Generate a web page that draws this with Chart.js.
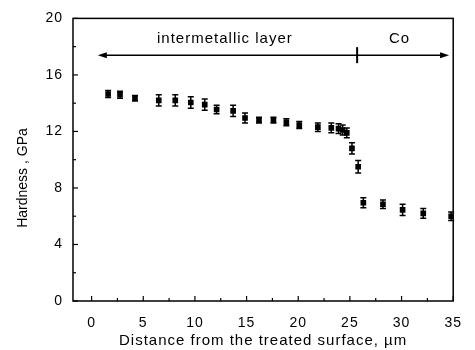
<!DOCTYPE html>
<html>
<head>
<meta charset="utf-8">
<script src="https://cdn.jsdelivr.net/npm/chart.js@4.4.1/dist/chart.umd.min.js"></script>
<style>
html,body{margin:0;padding:0;background:#fff;}
#wrap{width:475px;height:350px;}
</style>
</head>
<body>
<div id="wrap"><canvas id="c" width="475" height="350"></canvas></div>
<script>
const distance = [1.6, 2.75, 4.2, 6.5, 8.1, 9.6, 10.95, 12.1, 13.7, 14.85, 16.2, 17.6, 18.85, 20.1, 21.9, 23.2, 23.9, 24.3, 24.7, 25.2, 25.8, 26.3, 28.2, 30.1, 32.1, 34.8];
const hardness = [14.65, 14.6, 14.35, 14.2, 14.2, 14.05, 13.9, 13.55, 13.45, 12.95, 12.8, 12.8, 12.65, 12.45, 12.3, 12.25, 12.2, 12.1, 11.9, 10.8, 9.5, 6.95, 6.85, 6.45, 6.2, 6.0];
const hardnessErr = [0.25, 0.25, 0.2, 0.4, 0.4, 0.4, 0.4, 0.3, 0.4, 0.35, 0.2, 0.2, 0.25, 0.25, 0.3, 0.35, 0.35, 0.35, 0.35, 0.4, 0.45, 0.35, 0.3, 0.4, 0.35, 0.3];
const xTicks = [0, 5, 10, 15, 20, 25, 30, 35];
const yTicks = [0, 4, 8, 12, 16, 20];
const regionLabels = ["intermetallic layer", "Co"];
const regionBounds = [0.6, 25.7, 34.6];
const regionArrowY = 17.4;
const yTitle = "Hardness , GPa";

const FONT = "'Liberation Sans', Arial, sans-serif";

const framePlugin = {
  id: 'frame',
  beforeDraw(chart) {
    chart.ctx.letterSpacing = '1px';
  },
  afterDatasetsDraw(chart) {
    const ctx = chart.ctx;
    const a = chart.chartArea;
    const xs = chart.scales.x, ys = chart.scales.y;
    ctx.save();
    // error bars
    ctx.strokeStyle = '#000';
    ctx.lineWidth = 1.5;
    distance.forEach((d, i) => {
      const px = xs.getPixelForValue(d);
      const top = ys.getPixelForValue(hardness[i] + hardnessErr[i]);
      const bot = ys.getPixelForValue(hardness[i] - hardnessErr[i]);
      ctx.beginPath();
      ctx.moveTo(px, top); ctx.lineTo(px, bot);
      ctx.moveTo(px - 3, top); ctx.lineTo(px + 3, top);
      ctx.moveTo(px - 3, bot); ctx.lineTo(px + 3, bot);
      ctx.stroke();
    });
    // frame
    ctx.lineWidth = 1.5;
    ctx.strokeRect(a.left, a.top, a.right - a.left, a.bottom - a.top);
    // ticks inward
    ctx.lineWidth = 1.2;
    for (let v = 0; v <= 35; v += 2.5) {
      const px = xs.getPixelForValue(v);
      const len = (v % 5 === 0) ? 5 : 3;
      ctx.beginPath(); ctx.moveTo(px, a.bottom); ctx.lineTo(px, a.bottom - len); ctx.stroke();
    }
    for (let v = 0; v <= 20; v += 2) {
      const py = ys.getPixelForValue(v);
      const len = (v % 4 === 0) ? 5 : 3;
      ctx.beginPath(); ctx.moveTo(a.left, py); ctx.lineTo(a.left + len, py); ctx.stroke();
    }
    // region arrows
    const y = ys.getPixelForValue(regionArrowY);
    const x0 = xs.getPixelForValue(regionBounds[0]);
    const xm = xs.getPixelForValue(regionBounds[1]);
    const x1 = xs.getPixelForValue(regionBounds[2]);
    ctx.lineWidth = 1.5;
    ctx.beginPath(); ctx.moveTo(x0 + 4, y); ctx.lineTo(x1 - 4, y); ctx.stroke();
    ctx.lineWidth = 2;
    ctx.beginPath(); ctx.moveTo(xm, y - 8); ctx.lineTo(xm, y + 8); ctx.stroke();
    ctx.fillStyle = '#000';
    ctx.beginPath(); ctx.moveTo(x0, y); ctx.lineTo(x0 + 9, y - 3); ctx.lineTo(x0 + 9, y + 3); ctx.closePath(); ctx.fill();
    ctx.beginPath(); ctx.moveTo(x1, y); ctx.lineTo(x1 - 9, y - 3); ctx.lineTo(x1 - 9, y + 3); ctx.closePath(); ctx.fill();
    ctx.font = '15px ' + FONT;
    ctx.letterSpacing = '1px';
    ctx.textAlign = 'center';
    ctx.textBaseline = 'middle';
    ctx.fillText(regionLabels[0], xs.getPixelForValue(12.9), y - 16);
    ctx.fillText(regionLabels[1], xs.getPixelForValue(29.8), y - 16);
    // y axis title
    ctx.letterSpacing = '0px';
    ctx.font = '14px ' + FONT;
    ctx.translate(23, 178);
    ctx.rotate(-Math.PI / 2);
    ctx.fillText(yTitle, 0, 0);
    ctx.restore();
  }
};

new Chart(document.getElementById('c'), {
  type: 'scatter',
  data: {
    datasets: [{
      data: distance.map((d, i) => ({x: d, y: hardness[i]})),
      pointStyle: 'rect',
      pointRadius: 4,
      pointBackgroundColor: '#000',
      pointBorderColor: '#000',
      pointBorderWidth: 0,
      showLine: false
    }]
  },
  options: {
    responsive: false,
    animation: false,
    devicePixelRatio: 1,
    layout: { padding: { left: 0, top: 17, right: 14, bottom: 0 } },
    plugins: { legend: { display: false }, tooltip: { enabled: false } },
    scales: {
      x: {
        type: 'linear', min: -1.8, max: 35,
        afterBuildTicks: s => { s.ticks = xTicks.map(v => ({value: v})); },
        afterFit: s => { s.height = 49; },
        grid: { display: false, drawTicks: false },
        border: { display: false },
        ticks: { padding: 14, color: '#000', font: { family: FONT, size: 14 }, maxRotation: 0 },
        title: { display: true, text: 'Distance from the treated surface, µm', color: '#000', font: { family: FONT, size: 15 }, padding: { top: 0, bottom: 0 } }
      },
      y: {
        type: 'linear', min: 0, max: 20,
        afterBuildTicks: s => { s.ticks = yTicks.map(v => ({value: v})); },
        afterFit: s => { s.width = 73; },
        grid: { display: false, drawTicks: false },
        border: { display: false },
        ticks: { padding: 10, color: '#000', font: { family: FONT, size: 14 } },
        title: { display: false }
      }
    }
  },
  plugins: [framePlugin]
});
</script>
</body>
</html>
